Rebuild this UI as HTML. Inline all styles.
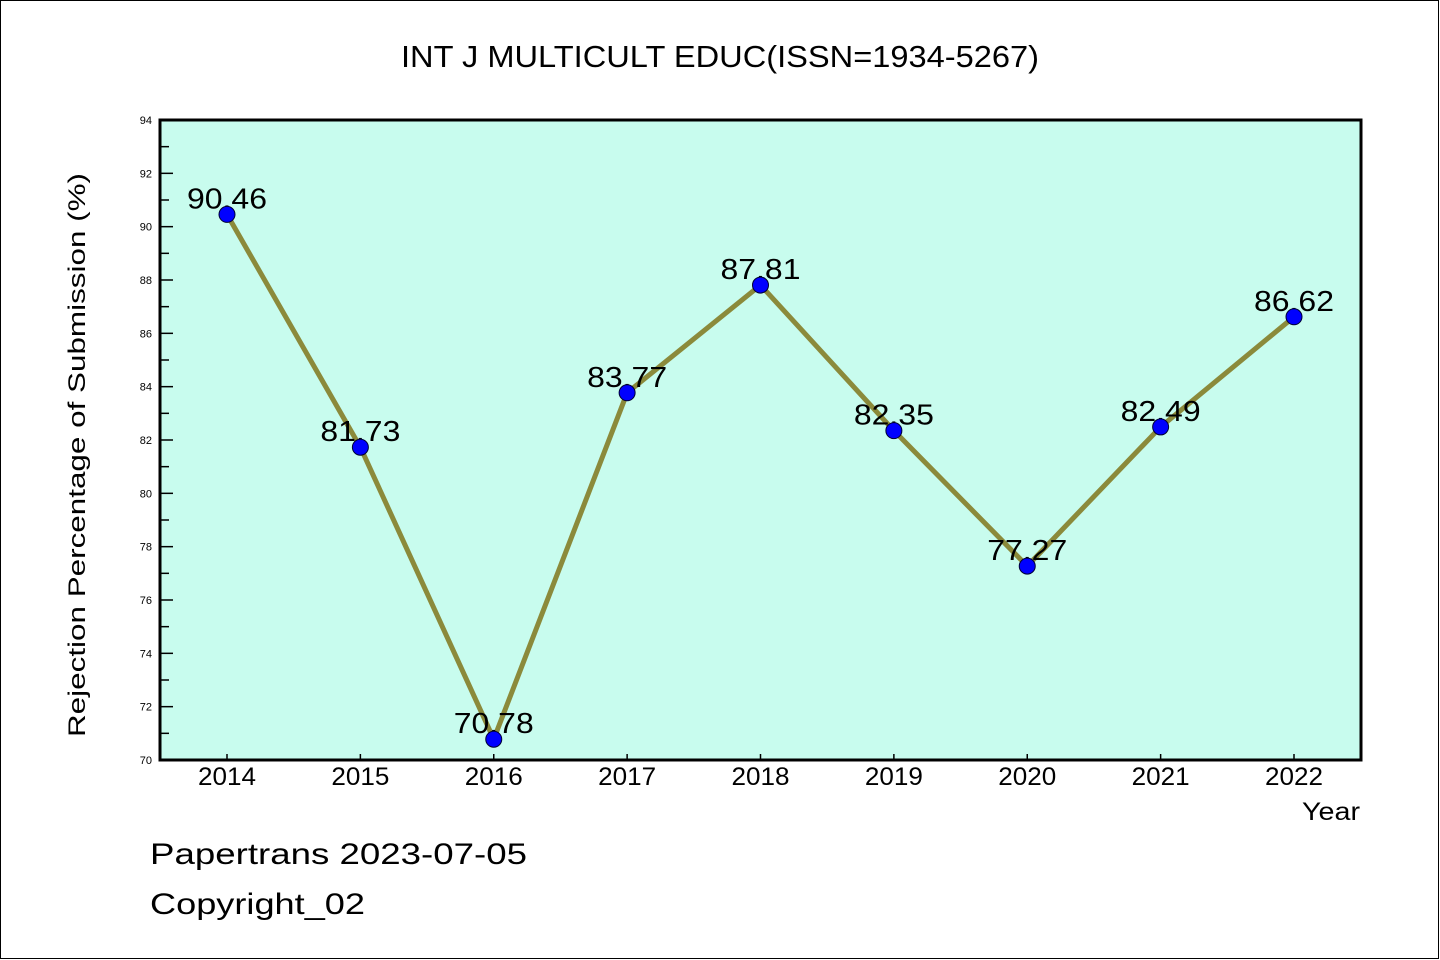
<!DOCTYPE html>
<html><head><meta charset="utf-8"><style>
html,body{margin:0;padding:0;background:#fff}
svg{display:block}
text{font-family:"Liberation Sans","WenQuanYi Zen Hei",sans-serif;fill:#000}
</style></head><body>
<svg id="chart" width="1440" height="960" viewBox="0 0 1440 960" xmlns="http://www.w3.org/2000/svg">
<rect x="0.5" y="0.5" width="1438" height="958" fill="#fff" stroke="#000" stroke-width="1"/>
<text x="720" y="67" text-anchor="middle" font-size="31" textLength="638" lengthAdjust="spacingAndGlyphs">INT J MULTICULT EDUC(ISSN=1934-5267)</text>
<rect x="160" y="120" width="1201" height="640" fill="#c8fcee"/>
<g id="axes"></g>
<g id="series"></g>
<rect x="160" y="120" width="1201" height="640" fill="none" stroke="#000" stroke-width="3"/>
<text transform="translate(85,455) rotate(-90)" text-anchor="middle" font-size="24" textLength="564" lengthAdjust="spacingAndGlyphs">Rejection Percentage of Submission (%)</text>
<text x="1360" y="820" text-anchor="end" font-size="25" textLength="58" lengthAdjust="spacingAndGlyphs">Year</text>
<text x="150" y="864" font-size="30" textLength="377" lengthAdjust="spacingAndGlyphs">Papertrans 2023-07-05</text>
<text x="150" y="914" font-size="30" textLength="215" lengthAdjust="spacingAndGlyphs">Copyright_02</text>
</svg>
<script>
const categories = ["2014","2015","2016","2017","2018","2019","2020","2021","2022"];
const values = [90.46, 81.73, 70.78, 83.77, 87.81, 82.35, 77.27, 82.49, 86.62];
const yTicks = [70,72,74,76,78,80,82,84,86,88,90,92,94];

const NS="http://www.w3.org/2000/svg";
const yMin=70,yMax=94,plotTop=120,plotBottom=760;
function yScale(v){return plotBottom-(v-yMin)/(yMax-yMin)*(plotBottom-plotTop);}
function xScale(i){return 227+i*(1294-227)/(categories.length-1);}
function mk(tag,attrs,parent){const e=document.createElementNS(NS,tag);for(const k in attrs)e.setAttribute(k,attrs[k]);parent.appendChild(e);return e;}
const axesG=document.getElementById('axes');
const seriesG=document.getElementById('series');
yTicks.forEach((t,i)=>{
  const y=yScale(t);
  const tk=mk('line',{x1:160,x2:173,y1:y,y2:y,stroke:'#000','stroke-width':1.5},axesG);
  
  
  const lb=mk('text',{x:152,y:y+4,'text-anchor':'end','font-size':11},axesG);
  lb.textContent=t;
  
  
  if(i<yTicks.length-1){
    const ym=yScale(t+1);
    const mn=mk('line',{x1:160,x2:169,y1:ym,y2:ym,stroke:'#000','stroke-width':1.5},axesG);
    
    
  }
});
categories.forEach((c,i)=>{
  const x=xScale(i);
  const tk=mk('line',{x1:x,x2:x,y1:760,y2:754,stroke:'#000','stroke-width':1.5},axesG);
  
  
  const lb=mk('text',{x:x,y:785,'text-anchor':'middle','font-size':25,textLength:58,lengthAdjust:'spacingAndGlyphs'},axesG);
  lb.textContent=c;
  
  
});
const pts=values.map((v,i)=>xScale(i)+','+yScale(v)).join(' ');
const line=mk('polyline',{points:pts,fill:'none',stroke:'#8b8a3b','stroke-width':5,'stroke-linejoin':'round'},seriesG);


values.forEach((v,i)=>{
  const x=xScale(i),y=yScale(v);
  const lb=mk('text',{x:x,y:y-6,'text-anchor':'middle','font-size':29,textLength:80,lengthAdjust:'spacingAndGlyphs'},seriesG);
  lb.textContent=v.toFixed(2);
  
  
});
values.forEach((v,i)=>{
  const c=mk('circle',{cx:xScale(i),cy:yScale(v),r:8,fill:'#0000ff',stroke:'#000033','stroke-width':1},seriesG);
  
  
});
</script>
</body></html>
